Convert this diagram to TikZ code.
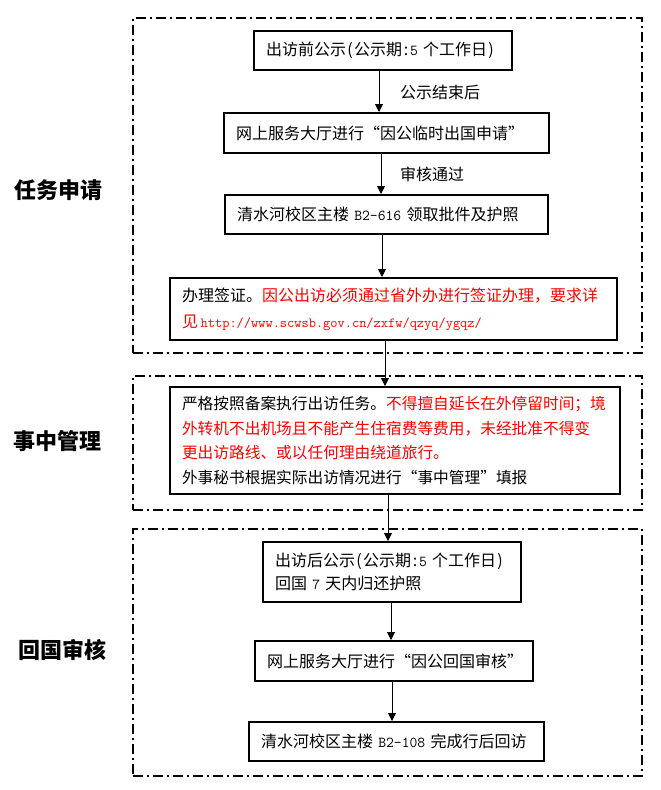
\documentclass[tikz,border=0pt]{standalone}
\usepackage{fontspec}
\setmainfont{Noto Sans CJK SC}
\usetikzlibrary{arrows.meta}
\newcommand\hw[1]{\makebox[8pt]{#1}}
\newcommand\lat[1]{{\ttfamily\fontsize{15.2}{16}\selectfont #1}}
\newcommand\urltxt[1]{{\ttfamily\fontsize{14}{16}\selectfont #1}}
\begin{document}
\begin{tikzpicture}[x=1pt,y=-1pt,
  frame/.style={draw, line width=2pt, dash pattern=on 10pt off 4pt on 2pt off 4pt, inner sep=0pt, minimum width=509pt},
  box/.style={draw, line width=2pt, align=left, inner xsep=12pt, inner ysep=0pt, font=\fontsize{16}{26}\selectfont},
  arr/.style={-{Triangle[length=8pt,width=8pt]}, line width=1pt},
  side/.style={font=\fontsize{22}{22}\selectfont\bfseries, inner sep=0pt},
  lbl/.style={anchor=west, font=\fontsize{16}{16}\selectfont, inner sep=0pt}]
\useasboundingbox (0,0) rectangle (661,790);
\fill[white] (0,0) rectangle (661,790);

% frames
\node[frame, minimum height=335pt] (f1) at (387.5,185.5) {};
\node[frame, minimum height=134pt] (f2) at (387.5,443) {};
\node[frame, minimum height=247pt] (f3) at (387.5,652.5) {};

% side labels
\node[side] (s1) at (58,190) {任务申请};
\node[side] (s2) at (57,441) {事中管理};
\node[side] (s3) at (63,650) {回国审核};

% boxes
\node[box, text width=234pt, minimum height=39pt] (b1) at (383,50.5)
  {\mbox{出访前公示\hw{(}公示期\hw{:}\lat{5} 个工作日\hw{)}}};
\node[box, text width=301pt, minimum height=40pt] (b2) at (386.5,133)
  {\mbox{网上服务大厅进行“因公临时出国申请”}};
\node[box, text width=299pt, minimum height=39pt] (b3) at (386.5,214.5)
  {\mbox{清水河校区主楼 \lat{B2-616} 领取批件及护照}};
\node[box, text width=423pt, minimum height=62pt] (b4) at (393.5,309)
  {办理签证。\textcolor{red}{因公出访必须通过省外办进行签证办理，要求详}\\
   \textcolor{red}{见\,\urltxt{http://www.scwsb.gov.cn/zxfw/qzyq/ygqz/}}};
\node[box, text width=426pt, minimum height=107pt, font=\fontsize{15.7}{24.5}\selectfont] (b5) at (395,440.5)
  {严格按照备案执行出访任务。\textcolor{red}{不得擅自延长在外停留时间；境}\\
   \textcolor{red}{外转机不出机场且不能产生住宿费等费用，未经批准不得变}\\
   \textcolor{red}{更出访路线、或以任何理由绕道旅行。}\\
   外事秘书根据实际出访情况进行“事中管理”填报};
\node[box, text width=234pt, minimum height=60pt, font=\fontsize{16}{23}\selectfont] (b6) at (392,572)
  {\mbox{出访后公示\hw{(}公示期\hw{:}\lat{5} 个工作日\hw{)}}\\
   \mbox{回国 \lat{7} 天内归还护照}};
\node[box, text width=254pt, minimum height=40pt] (b7) at (394,661)
  {\mbox{网上服务大厅进行“因公回国审核”}};
\node[box, text width=271pt, minimum height=39pt] (b8) at (396.5,741.5)
  {\mbox{清水河校区主楼 \lat{B2-108} 完成行后回访}};

% arrow x positions
\coordinate (a1) at (379,0);
\coordinate (a2) at (381,0);
\coordinate (a3) at (382,0);
\coordinate (a4) at (385,0);
\coordinate (a5) at (388,0);
\coordinate (a6) at (391,0);
\coordinate (a7) at (392,0);

\draw[arr] (b1.south -| a1) -- (b2.north -| a1);
\draw[arr] (b2.south -| a2) -- (b3.north -| a2);
\draw[arr] (b3.south -| a3) -- (b4.north -| a3);
\draw[arr] (b4.south -| a4) -- (b5.north -| a4);
\draw[arr] (b5.south -| a5) -- (b6.north -| a5);
\draw[arr] (b6.south -| a6) -- (b7.north -| a6);
\draw[arr] (b7.south -| a7) -- (b8.north -| a7);

% arrow labels
\node[lbl] (l1) at (400,92) {公示结束后};
\node[lbl] (l2) at (400,174) {审核通过};
\end{tikzpicture}
\end{document}
